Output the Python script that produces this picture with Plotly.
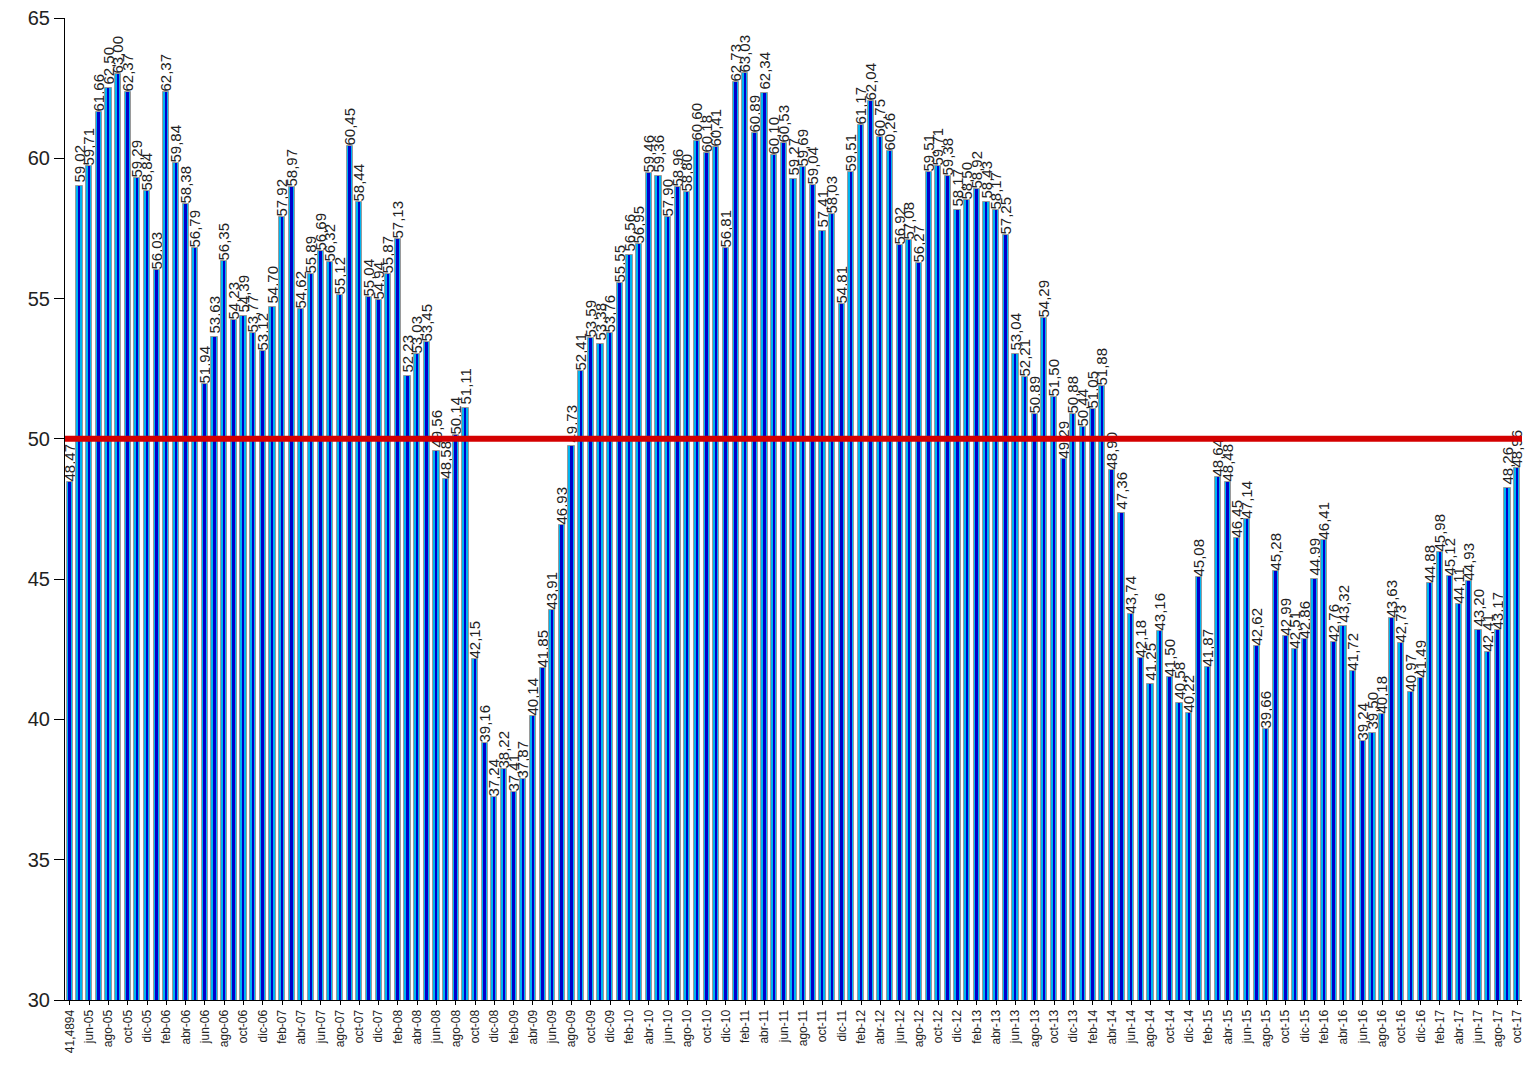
import plotly.graph_objs as go

MESES = ["ene", "feb", "mar", "abr", "may", "jun", "jul", "ago", "sep", "oct", "nov", "dic"]

# categorías: primera etiqueta tal cual aparece en el original
categorias = ["41,4894"]
for anio in range(2005, 2018):
    for i, mes in enumerate(MESES):
        if anio == 2005 and i < 4:
            continue
        if anio == 2017 and i > 9:
            break
        categorias.append(f"{mes}-{str(anio)[2:]}")

valores = [
    48.47, 59.02, 59.71, 61.66, 62.50, 63.00, 62.37, 59.29, 58.84, 56.03,
    62.37, 59.84, 58.38, 56.79, 51.94, 53.63, 56.35, 54.23, 54.39, 53.77,
    53.12, 54.70, 57.92, 58.97, 54.62, 55.89, 56.69, 56.32, 55.12, 60.45,
    58.44, 55.04, 54.94, 55.87, 57.13, 52.23, 53.03, 53.45, 49.56, 48.58,
    50.14, 51.11, 42.15, 39.16, 37.24, 38.22, 37.41, 37.87, 40.14, 41.85,
    43.91, 46.93, 49.73, 52.41, 53.59, 53.38, 53.76, 55.55, 56.56, 56.95,
    59.46, 59.36, 57.90, 58.96, 58.80, 60.60, 60.18, 60.41, 56.81, 62.73,
    63.03, 60.89, 62.34, 60.10, 60.53, 59.27, 59.69, 59.04, 57.41, 58.03,
    54.81, 59.51, 61.17, 62.04, 60.75, 60.26, 56.92, 57.08, 56.27, 59.51,
    59.71, 59.38, 58.17, 58.50, 58.92, 58.43, 58.17, 57.25, 53.04, 52.21,
    50.89, 54.29, 51.50, 49.29, 50.88, 50.44, 51.05, 51.88, 48.90, 47.36,
    43.74, 42.18, 41.25, 43.16, 41.50, 40.58, 40.22, 45.08, 41.87, 48.64,
    48.48, 46.45, 47.14, 42.62, 39.66, 45.28, 42.99, 42.51, 42.86, 44.99,
    46.41, 42.76, 43.32, 41.72, 39.24, 39.50, 40.18, 43.63, 42.73, 40.97,
    41.49, 44.88, 45.98, 45.12, 44.11, 44.93, 43.20, 42.41, 43.17, 48.26,
    48.96,
]

REFERENCIA = 50
y_ticks = [30, 35, 40, 45, 50, 55, 60, 65]

etiquetas = [f"{v:.2f}".replace(".", ",") for v in valores]

fig = go.Figure()
fig.add_trace(go.Bar(
    x=categorias, y=valores, width=0.64,
    marker=dict(color="#00B4F0", line=dict(color="#9a9a9a", width=1)),
    text=etiquetas, textposition="outside", textangle=-90,
    constraintext="none", cliponaxis=False,
    textfont=dict(family="Liberation Sans, Arial", size=15, color="#222"),
    hoverinfo="x+y",
))
fig.add_trace(go.Bar(
    x=categorias, y=valores, width=0.2,
    marker=dict(color="#0000CC", line=dict(width=0)),
    hoverinfo="skip",
))
fig.add_shape(type="line", xref="paper", yref="y", x0=0, x1=1,
              y0=REFERENCIA, y1=REFERENCIA,
              line=dict(color="#D40000", width=6))

# la página añade 8 px de margen alrededor del gráfico
fig.update_layout(
    width=1520, height=1049,
    barmode="overlay", bargap=0,
    showlegend=False,
    plot_bgcolor="white", paper_bgcolor="white",
    margin=dict(l=57, r=6, t=10, b=57),
    font=dict(family="Liberation Sans, Arial", color="#222"),
    xaxis=dict(
        type="category", automargin=False,
        tickmode="array", tickvals=categorias[::2],
        tickangle=-90, tickfont=dict(size=12),
        showline=True, linecolor="black", linewidth=1,
        ticks="outside", ticklen=4, tickcolor="black",
        showgrid=False,
    ),
    yaxis=dict(
        range=[30, 65], tickvals=y_ticks, automargin=False,
        tickfont=dict(size=20), ticklabeloverflow="allow",
        showline=True, linecolor="black", linewidth=1,
        ticks="outside", ticklen=10, tickcolor="black",
        showgrid=False, zeroline=False,
    ),
)

fig.write_html("out.html")
